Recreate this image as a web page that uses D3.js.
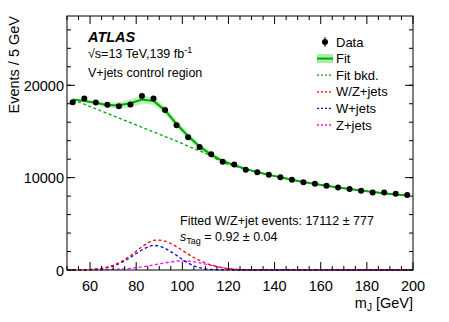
<!DOCTYPE html>
<html><head><meta charset="utf-8">
<script src="https://cdn.jsdelivr.net/npm/d3@7"></script>
<style>body{margin:0;background:#fff}svg{display:block}text{font-family:"Liberation Sans",Arial,Helvetica,sans-serif}</style>
</head><body><svg id="c" width="449" height="322"></svg>
<script>
// ---- data ----
const binCenters = [52.5,57.5,62.5,67.5,72.5,77.5,82.5,87.5,92.5,97.5,102.5,107.5,112.5,117.5,122.5,127.5,132.5,137.5,142.5,147.5,152.5,157.5,162.5,167.5,172.5,177.5,182.5,187.5,192.5,197.5];
const dataValues = [18160,18560,18130,17880,17730,17910,18850,18560,17330,15680,14380,13330,12540,11710,11420,10850,10590,10300,10050,9760,9510,9330,9110,8940,8760,8570,8400,8400,8250,8110];
const fitValues  = [18450,18300,18100,17850,17850,18050,18450,18300,17300,15800,14500,13350,12500,11800,11350,10950,10600,10300,10050,9780,9530,9320,9120,8940,8770,8600,8450,8310,8180,8060];
const fitUncert  = [120,130,180,250,350,450,450,400,400,400,380,330,280,180,130,90,70,60,60,60,60,60,60,60,60,60,60,60,60,60];
const bkgValues  = [18400,17950,17450,16950,16450,15950,15450,14950,14450,13950,13400,12900,12350,11650,11250,10900,10600,10300,10050,9780,9530,9320,9120,8940,8770,8600,8450,8310,8180,8060];
const sigMass = [52.5,55,57.5,60,62.5,65,67.5,70,72.5,75,77.5,80,82.5,85,87.5,90,92.5,95,97.5,100,102.5,105,107.5,110,112.5,115,117.5,120,122.5,125,127.5,130,197.5];
const wValues  = [0,10,20,40,80,150,270,450,700,1000,1370,1780,2170,2480,2660,2580,2350,1990,1580,1150,760,460,250,120,60,25,10,5,0,0,0,0,0];
const zValues  = [0,0,0,5,10,20,35,60,90,130,180,250,340,440,550,660,770,870,950,980,960,890,780,640,490,350,230,140,80,40,20,10,0];
const wzValues = [0,10,20,45,90,170,305,510,790,1130,1550,2030,2510,2920,3210,3240,3120,2860,2530,2130,1720,1350,1030,760,550,375,240,145,80,40,20,10,0];
const xTicks = [60,80,100,120,140,160,180,200];
const yTicks = [0,10000,20000];
const legendLabels = ["Data","Fit","Fit bkd.","W/Z+jets","W+jets","Z+jets"];

// ---- chart ----
const svg = d3.select("#c");
const L=67,R=413,T=16,B=270;
const x = d3.scaleLinear().domain([50,200]).range([L,R]);
const y = d3.scaleLinear().domain([0,27500]).range([B,T]);
const green="#00a600", band="#a6f0a6";

svg.append("path")
  .datum(binCenters.map((m,i)=>({m,lo:fitValues[i]-fitUncert[i],hi:fitValues[i]+fitUncert[i]})))
  .attr("fill",band).attr("opacity",0.8)
  .attr("d",d3.area().x(d=>x(d.m)).y0(d=>y(d.lo)).y1(d=>y(d.hi)));
svg.append("path").datum(binCenters.map((m,i)=>[m,fitValues[i]]))
  .attr("fill","none").attr("stroke",green).attr("stroke-width",2)
  .attr("d",d3.line().x(d=>x(d[0])).y(d=>y(d[1])));
svg.append("path").datum(binCenters.map((m,i)=>[m,bkgValues[i]]))
  .attr("fill","none").attr("stroke",green).attr("stroke-width",1.3).attr("stroke-dasharray","3,2.5")
  .attr("d",d3.line().curve(d3.curveMonotoneX).x(d=>x(d[0])).y(d=>y(d[1])));
const sigs=[[zValues,"#ff00ff"],[wValues,"#0000ff"],[wzValues,"#ff0000"]];
sigs.forEach(([vals,col])=>{
  svg.append("path").datum(sigMass.map((m,i)=>[m,vals[i]]))
    .attr("fill","none").attr("stroke",col).attr("stroke-width",1.3).attr("stroke-dasharray","3,2.5")
    .attr("d",d3.line().curve(d3.curveMonotoneX).x(d=>x(d[0])).y(d=>y(d[1])));
});
const dg=svg.append("g");
binCenters.forEach((m,i)=>{
  const v=dataValues[i], e=Math.sqrt(v);
  dg.append("line").attr("x1",x(m)).attr("x2",x(m)).attr("y1",y(v-e)).attr("y2",y(v+e)).attr("stroke","#000");
  dg.append("circle").attr("cx",x(m)).attr("cy",y(v)).attr("r",3).attr("fill","#000");
});

svg.append("rect").attr("x",L).attr("y",T).attr("width",R-L).attr("height",B-T)
  .attr("fill","none").attr("stroke","#000").attr("stroke-width",1);
const tk=svg.append("g").attr("stroke","#000").attr("stroke-width",1);
d3.range(50,200.1,5).forEach(m=>{
  const len = xTicks.includes(m)?8:4;
  tk.append("line").attr("x1",x(m)).attr("x2",x(m)).attr("y1",B).attr("y2",B-len);
  tk.append("line").attr("x1",x(m)).attr("x2",x(m)).attr("y1",T).attr("y2",T+len);
});
d3.range(0,27500,2000).forEach(v=>{
  tk.append("line").attr("x1",L).attr("x2",L+4).attr("y1",y(v)).attr("y2",y(v));
  tk.append("line").attr("x1",R).attr("x2",R-4).attr("y1",y(v)).attr("y2",y(v));
});
yTicks.forEach(v=>{
  tk.append("line").attr("x1",L).attr("x2",L+8).attr("y1",y(v)).attr("y2",y(v));
  tk.append("line").attr("x1",R).attr("x2",R-8).attr("y1",y(v)).attr("y2",y(v));
});
xTicks.forEach(m=>svg.append("text").attr("x",x(m)).attr("y",B+21).attr("text-anchor","middle")
  .attr("font-size",14.5).text(m));
yTicks.forEach(v=>svg.append("text").attr("x",L-3).attr("y",y(v)+5.5).attr("text-anchor","end")
  .attr("font-size",14.5).text(v));
const xt=svg.append("text").attr("x",R).attr("y",308).attr("text-anchor","end").attr("font-size",14.5);
xt.append("tspan").text("m");
xt.append("tspan").attr("font-size",10).attr("dy",3).text("J");
xt.append("tspan").attr("dy",-3).text(" [GeV]");
svg.append("text").attr("transform",`translate(19,${T}) rotate(-90)`).attr("text-anchor","end")
  .attr("font-size",14.5).text("Events / 5 GeV");

svg.append("text").attr("x",88).attr("y",42).attr("font-size",14.5).attr("font-weight","bold")
  .attr("font-style","italic").text("ATLAS");
const st=svg.append("text").attr("x",88).attr("y",58).attr("font-size",12.5);
st.append("tspan").text("√s=13 TeV,139 fb");
st.append("tspan").attr("font-size",9).attr("dy",-5).text("-1");
svg.append("text").attr("x",88).attr("y",77).attr("font-size",12.5).text("V+jets control region");

svg.append("text").attr("x",180).attr("y",225).attr("font-size",12.5).text("Fitted W/Z+jet events: 17112 ± 777");
const s2=svg.append("text").attr("x",180).attr("y",241).attr("font-size",12.5);
s2.append("tspan").attr("font-style","italic").text("s");
s2.append("tspan").attr("font-size",9).attr("dy",3).text("Tag");
s2.append("tspan").attr("dy",-3).text(" = 0.92 ± 0.04");

const lx0=317,lx1=333,ly0=42,ldy=16.6;
const lg=svg.append("g");
legendLabels.forEach((lab,i)=>{
  lg.append("text").attr("x",336).attr("y",ly0+i*ldy+4.5).attr("font-size",13).text(lab);
});
lg.append("line").attr("x1",325).attr("x2",325).attr("y1",ly0-5).attr("y2",ly0+5).attr("stroke","#000");
lg.append("circle").attr("cx",325).attr("cy",ly0).attr("r",3).attr("fill","#000");
lg.append("rect").attr("x",lx0).attr("y",ly0+ldy-4.5).attr("width",lx1-lx0).attr("height",9).attr("fill",band);
lg.append("line").attr("x1",lx0).attr("x2",lx1).attr("y1",ly0+ldy).attr("y2",ly0+ldy).attr("stroke",green).attr("stroke-width",2);
[[green,2],["#ff0000",3],["#0000ff",4],["#ff00ff",5]].forEach(([c,i])=>{
  lg.append("line").attr("x1",lx0).attr("x2",lx1).attr("y1",ly0+i*ldy).attr("y2",ly0+i*ldy)
    .attr("stroke",c).attr("stroke-width",1.3).attr("stroke-dasharray","2,2");
});
</script></body></html>
